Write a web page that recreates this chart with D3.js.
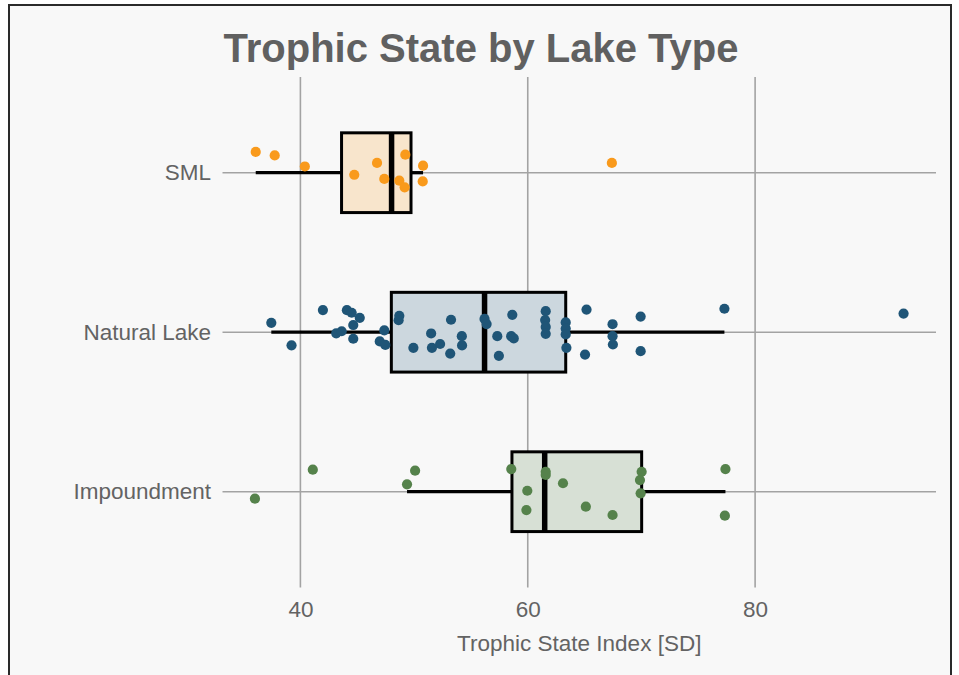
<!DOCTYPE html>
<html>
<head>
<meta charset="utf-8">
<script src="https://cdn.jsdelivr.net/npm/d3@7"></script>
<style>
  html, body { margin: 0; padding: 0; background: #ffffff; }
  svg { display: block; }
  text { font-family: "Liberation Sans", Arial, Helvetica, sans-serif; }
</style>
</head>
<body>
<svg id="chart" width="959" height="675"></svg>
<script>
// Lake types, top to bottom
const categories = ["SML", "Natural Lake", "Impoundment"];
const seriesColors = ["#f99a1c", "#1f5577", "#55824b"];

// Trophic State Index [SD] for each sampled lake, with vertical jitter (category units)
const smlValues = [36.07, 37.74, 40.39, 44.74, 46.74, 47.38, 48.70, 49.23, 49.17, 50.79, 50.76, 67.40];
const smlJitter = [-0.130, -0.108, -0.039, 0.013, -0.061, 0.039, 0.050, -0.113, 0.092, -0.044, 0.055, -0.061];

const naturalValues = [37.44, 39.22, 41.98, 44.09, 44.51, 45.22, 44.65, 43.15, 43.63, 44.65,
  47.38, 46.98, 47.47, 48.70, 48.64, 49.94, 51.50, 51.57, 52.29, 53.25,
  53.18, 54.20, 54.22, 56.20, 56.38, 57.32, 57.46, 58.64, 58.54, 58.77,
  61.58, 61.53, 61.58, 61.58, 63.34, 63.34, 63.34, 63.40, 65.17, 65.04,
  67.46, 67.46, 67.49, 69.93, 69.93, 77.30, 93.06];
const naturalJitter = [-0.059, 0.082, -0.139, -0.138, -0.122, -0.090, -0.045, 0.007, -0.006, 0.041,
  -0.011, 0.058, 0.080, -0.103, -0.075, 0.098, 0.008, 0.098, 0.074, -0.078,
  0.134, 0.025, 0.083, -0.083, -0.051, 0.025, 0.148, -0.109, 0.025, 0.039,
  -0.132, -0.076, -0.033, 0.010, -0.061, -0.023, 0.014, 0.098, -0.142, 0.140,
  -0.050, 0.025, 0.077, -0.098, 0.119, -0.147, -0.117];

const impoundValues = [36.00, 41.09, 50.09, 49.38, 58.55, 59.96, 59.88, 61.58, 61.58, 63.10,
  65.11, 67.46, 70.02, 69.87, 69.93, 77.39, 77.34];
const impoundJitter = [0.044, -0.138, -0.132, -0.046, -0.142, -0.006, 0.115, -0.125, -0.105, -0.053,
  0.094, 0.146, -0.125, -0.073, 0.010, -0.142, 0.150];

// Box-plot summaries per lake type (same order as categories)
const q1Values = [43.62, 48.00, 58.61];
const medianValues = [48.02, 56.20, 61.49];
const q3Values = [49.73, 63.34, 70.02];
const whiskerLow = [36.07, 37.44, 49.38];
const whiskerHigh = [50.79, 77.30, 77.39];

const xTicks = [40, 60, 80];
const titleText = "Trophic State by Lake Type";
const xTitle = "Trophic State Index [SD]";

const valueSets = [smlValues, naturalValues, impoundValues];
const jitterSets = [smlJitter, naturalJitter, impoundJitter];

const svg = d3.select("#chart");
const W = 959, H = 675;
const panel = { left: 222.5, right: 936, top: 77, bottom: 587.4 };

// background and frame
svg.append("rect").attr("x", 0).attr("y", 0).attr("width", W).attr("height", H).attr("fill", "#ffffff");
svg.append("rect").attr("x", 9).attr("y", 5).attr("width", 942).attr("height", 720)
  .attr("fill", "#f8f8f8").attr("stroke", "#2a2a2a").attr("stroke-width", 2);

// x scale padded 5% beyond the data range
const allValues = valueSets.flat();
const [vmin, vmax] = d3.extent(allValues);
const pad = (vmax - vmin) * 0.05;
const x = d3.scaleLinear().domain([vmin - pad, vmax + pad]).range([panel.left, panel.right]);
const y = d3.scalePoint().domain(categories).range([panel.top, panel.bottom]).padding(0.6);
const step = y.step();

// grid lines
const grid = svg.append("g");
grid.selectAll("line.vx").data(xTicks).join("line")
  .attr("x1", d => x(d)).attr("x2", d => x(d))
  .attr("y1", panel.top).attr("y2", panel.bottom)
  .attr("stroke", "#a3a3a3").attr("stroke-width", 1.6);
grid.selectAll("line.hy").data(categories).join("line")
  .attr("x1", panel.left).attr("x2", panel.right)
  .attr("y1", d => y(d)).attr("y2", d => y(d))
  .attr("stroke", "#a3a3a3").attr("stroke-width", 1.6);

// axes
const xAxis = svg.append("g").attr("transform", `translate(0,${panel.bottom})`)
  .call(d3.axisBottom(x).tickValues(xTicks).tickSize(0).tickPadding(13.5).tickFormat(d3.format("d")));
const yAxis = svg.append("g").attr("transform", `translate(${panel.left},0)`)
  .call(d3.axisLeft(y).tickSize(0).tickPadding(11.5));
[xAxis, yAxis].forEach(a => {
  a.select(".domain").remove();
  a.selectAll("text").attr("fill", "#636363").style("font-size", "22.5px")
    .style("font-family", "'Liberation Sans', Arial, sans-serif");
});

// box plots
const boxHalf = step * 0.25;
categories.forEach((cat, i) => {
  const cy = y(cat);
  const g = svg.append("g");
  g.append("line").attr("x1", x(whiskerLow[i])).attr("x2", x(q1Values[i]))
    .attr("y1", cy).attr("y2", cy).attr("stroke", "#000").attr("stroke-width", 3.3);
  g.append("line").attr("x1", x(q3Values[i])).attr("x2", x(whiskerHigh[i]))
    .attr("y1", cy).attr("y2", cy).attr("stroke", "#000").attr("stroke-width", 3.3);
  g.append("rect").attr("x", x(q1Values[i])).attr("y", cy - boxHalf)
    .attr("width", x(q3Values[i]) - x(q1Values[i])).attr("height", boxHalf * 2)
    .attr("fill", "#f8f8f8").attr("stroke", "none");
  g.append("rect").attr("x", x(q1Values[i])).attr("y", cy - boxHalf)
    .attr("width", x(q3Values[i]) - x(q1Values[i])).attr("height", boxHalf * 2)
    .attr("fill", seriesColors[i]).attr("fill-opacity", 0.2)
    .attr("stroke", "#000").attr("stroke-width", 3);
  g.append("line").attr("x1", x(medianValues[i])).attr("x2", x(medianValues[i]))
    .attr("y1", cy - boxHalf).attr("y2", cy + boxHalf)
    .attr("stroke", "#000").attr("stroke-width", 5.5);
});

// jittered points
categories.forEach((cat, i) => {
  const pts = valueSets[i].map((v, k) => ({ v, j: jitterSets[i][k] }));
  svg.append("g").selectAll("circle").data(pts).join("circle")
    .attr("cx", d => x(d.v))
    .attr("cy", d => y(cat) + d.j * step)
    .attr("r", 5.1)
    .attr("fill", seriesColors[i]);
});

// titles
svg.append("text").attr("x", 481).attr("y", 62).attr("text-anchor", "middle")
  .attr("fill", "#606060").style("font-size", "40px").style("font-weight", "bold")
  .text(titleText);
svg.append("text").attr("x", (panel.left + panel.right) / 2).attr("y", 651).attr("text-anchor", "middle")
  .attr("fill", "#636363").style("font-size", "22.5px")
  .text(xTitle);
</script>
</body>
</html>
